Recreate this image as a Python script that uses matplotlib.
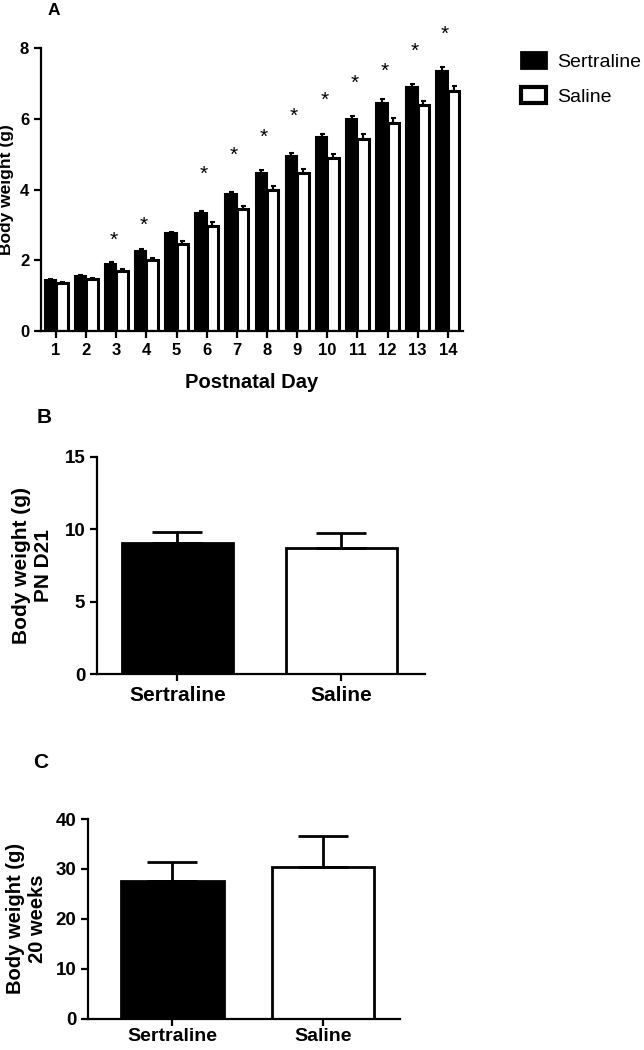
import numpy as np
import matplotlib
matplotlib.use("Agg")
import matplotlib.pyplot as plt
from matplotlib.patches import Patch

plt.rcParams['font.family'] = ['Liberation Sans', 'DejaVu Sans']
plt.rcParams['font.weight'] = 'bold'

# panel A data
days = np.arange(1, 15)
sertraline = [1.44, 1.55, 1.90, 2.27, 2.76, 3.33, 3.88, 4.47, 4.96, 5.50, 5.99, 6.46, 6.89, 7.36]
saline = [1.36, 1.47, 1.70, 2.01, 2.47, 2.98, 3.44, 4.00, 4.48, 4.90, 5.44, 5.89, 6.38, 6.80]
sert_err = [0.03, 0.03, 0.04, 0.05, 0.05, 0.06, 0.06, 0.07, 0.08, 0.08, 0.08, 0.09, 0.09, 0.10]
sal_err = [0.03, 0.03, 0.05, 0.06, 0.08, 0.09, 0.10, 0.11, 0.11, 0.12, 0.12, 0.13, 0.13, 0.13]
star_days = [3, 4, 6, 7, 8, 9, 10, 11, 12, 13, 14]
star_y = [2.55, 2.98, 4.42, 4.98, 5.48, 6.08, 6.52, 7.02, 7.36, 7.92, 8.40]

# panels B and C data
groups = ['Sertraline', 'Saline']
d21_mean = [9.03, 8.68]
d21_err = [0.80, 1.04]
wk20_mean = [27.5, 30.4]
wk20_err = [3.9, 6.1]

fig = plt.figure(figsize=(6.44, 10.5), dpi=100)

def style(ax):
    for s in ['top', 'right']:
        ax.spines[s].set_visible(False)
    for s in ['left', 'bottom']:
        ax.spines[s].set_linewidth(1.6)
    ax.tick_params(width=1.6, length=5, direction='out')

# A
axA = fig.add_axes([0.0637, 0.685, 0.655, 0.269])
w = 0.38
axA.bar(days - w/2, sertraline, w, color='black', edgecolor='black', linewidth=1.5,
        yerr=[np.zeros(14), sert_err], capsize=1.8, error_kw=dict(elinewidth=1.5, capthick=1.5))
axA.bar(days + w/2, saline, w, color='white', edgecolor='black', linewidth=2.2,
        yerr=[np.zeros(14), sal_err], capsize=1.8, error_kw=dict(elinewidth=1.5, capthick=1.5))
for d, y in zip(star_days, star_y):
    axA.text(d - 0.1, y, '*', ha='center', va='center', fontsize=15, fontweight='normal')
axA.set_xlim(0.5, 14.5)
axA.set_ylim(0, 8)
axA.set_yticks([0, 2, 4, 6, 8])
axA.set_xticks(days)
style(axA)
axA.tick_params(labelsize=12)
axA.set_ylabel('Body weight (g)', fontsize=12.5, fontweight='bold', labelpad=4)
axA.set_xlabel('Postnatal Day', fontsize=14.5, fontweight='bold', labelpad=11)
fig.text(48/644, 1 - 15/1050, 'A', fontsize=12.5, fontweight='bold')

handles = [Patch(facecolor='black', edgecolor='black', linewidth=2),
           Patch(facecolor='white', edgecolor='black', linewidth=3)]
fig.legend(handles, ['Sertraline', 'Saline'], loc='upper left',
           bbox_to_anchor=(521/644, 1 - 52/1050), frameon=False,
           prop=dict(size=14, weight='normal'), handlelength=1.3, handleheight=0.9,
           labelspacing=0.85, borderpad=0, borderaxespad=0, handletextpad=0.55)

# B
axB = fig.add_axes([0.1506, 0.358, 0.5094, 0.2068])
x2 = np.arange(2)
axB.bar(x2, d21_mean, 0.68, color=['black', 'white'], edgecolor='black', linewidth=2,
        yerr=[np.zeros(2), d21_err], capsize=18, error_kw=dict(elinewidth=2, capthick=2))
axB.set_xlim(-0.49, 1.51)
axB.set_ylim(0, 15)
axB.set_yticks([0, 5, 10, 15])
axB.set_xticks(x2)
axB.set_xticklabels(groups)
style(axB)
axB.tick_params(labelsize=13.5)
axB.tick_params(axis='x', labelsize=15)
axB.set_ylabel('Body weight (g)\nPN D21', fontsize=15, fontweight='bold', labelpad=8)
fig.text(37/644, 1 - 423/1050, 'B', fontsize=15, fontweight='bold')

# C
axC = fig.add_axes([0.1366, 0.03, 0.4845, 0.19])
axC.bar(x2, wk20_mean, 0.68, color=['black', 'white'], edgecolor='black', linewidth=2,
        yerr=[np.zeros(2), wk20_err], capsize=18, error_kw=dict(elinewidth=2, capthick=2))
axC.set_xlim(-0.56, 1.51)
axC.set_ylim(0, 40)
axC.set_yticks([0, 10, 20, 30, 40])
axC.set_xticks(x2)
axC.set_xticklabels(groups)
style(axC)
axC.tick_params(labelsize=13.5)
axC.tick_params(axis='x', labelsize=14, pad=2)
axC.set_ylabel('Body weight (g)\n20 weeks', fontsize=14.5, fontweight='bold', labelpad=6)
fig.text(33/644, 1 - 768/1050, 'C', fontsize=15, fontweight='bold')

fig.savefig('out.png', dpi=100)
